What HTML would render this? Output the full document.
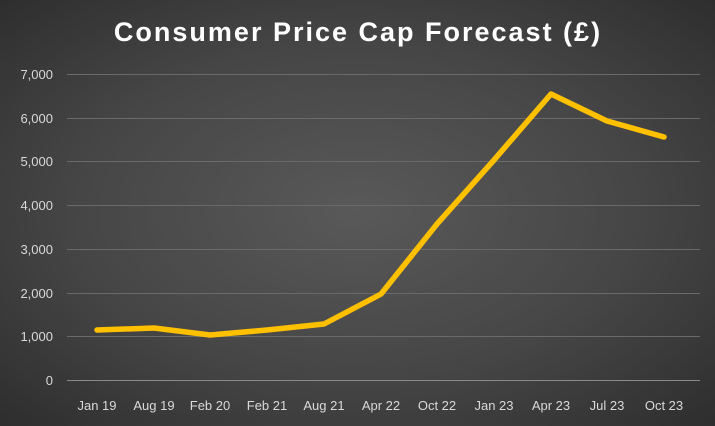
<!DOCTYPE html>
<html><head><meta charset="utf-8"><style>
html,body{margin:0;padding:0;}
body{width:715px;height:421px;overflow:hidden;background:radial-gradient(ellipse at 50% 50%,#595959 0%,#464646 55%,#2e2e2e 100%);font-family:"Liberation Sans",Calibri,sans-serif;}
</style></head><body>
<svg width="715" height="421" xmlns="http://www.w3.org/2000/svg">
<text x="358" y="41" text-anchor="middle" font-family="Liberation Sans, sans-serif" font-weight="bold" font-size="27" fill="#ffffff" letter-spacing="2">Consumer Price Cap Forecast (£)</text>
<g stroke="#6a6a6a" stroke-width="1">
<line x1="67" x2="700" y1="74.5" y2="74.5"/>
<line x1="67" x2="700" y1="118.5" y2="118.5"/>
<line x1="67" x2="700" y1="161.5" y2="161.5"/>
<line x1="67" x2="700" y1="205.5" y2="205.5"/>
<line x1="67" x2="700" y1="249.5" y2="249.5"/>
<line x1="67" x2="700" y1="293.5" y2="293.5"/>
<line x1="67" x2="700" y1="336.5" y2="336.5"/>
</g>
<line x1="67" x2="700" y1="380.5" y2="380.5" stroke="#8a8a8a" stroke-width="1"/>
<g font-size="13" fill="#d9d9d9" text-anchor="end" font-family="Liberation Sans, sans-serif">
<text x="53" y="79">7,000</text><text x="53" y="123">6,000</text><text x="53" y="166">5,000</text>
<text x="53" y="210">4,000</text><text x="53" y="254">3,000</text><text x="53" y="298">2,000</text>
<text x="53" y="341">1,000</text><text x="53" y="385">0</text>
</g>
<g font-size="13" fill="#d9d9d9" text-anchor="middle" font-family="Liberation Sans, sans-serif">
<text x="97" y="410">Jan 19</text><text x="154" y="410">Aug 19</text><text x="210" y="410">Feb 20</text>
<text x="267" y="410">Feb 21</text><text x="324" y="410">Aug 21</text><text x="381" y="410">Apr 22</text>
<text x="437" y="410">Oct 22</text><text x="494" y="410">Jan 23</text><text x="551" y="410">Apr 23</text>
<text x="607" y="410">Jul 23</text><text x="664" y="410">Oct 23</text>
</g>
<polyline fill="none" stroke="#ffc000" stroke-width="5.5" stroke-linejoin="round" stroke-linecap="round"
points="97,330 154,328 210,335 267,330 324,324 381,294 437,224 494,160 551,94 607,121 664,137"/>
</svg>
</body></html>
